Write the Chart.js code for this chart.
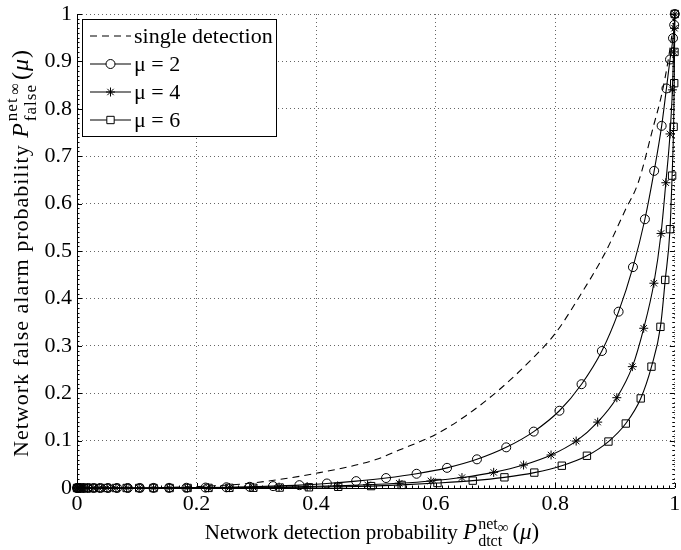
<!DOCTYPE html>
<html>
<head>
<meta charset="utf-8">
<script src="https://cdn.jsdelivr.net/npm/chart.js@4/dist/chart.umd.min.js"></script>
<style>
  html, body { margin: 0; padding: 0; background: #fff; }
  #wrap { width: 681px; height: 550px; }
</style>
</head>
<body>
<div id="wrap"><canvas id="rocChart" width="681" height="550"></canvas></div>
<script>
// single sensor detection curve
var singleDtct  = [0, 0.1, 0.2, 0.289, 0.4, 0.5, 0.539, 0.6, 0.65, 0.706, 0.761, 0.8, 0.844, 0.883, 0.917, 0.939, 0.964, 0.978, 0.989, 1];
var singleFalse = [0, 0.0003, 0.003, 0.01, 0.031, 0.06, 0.08, 0.113, 0.152, 0.207, 0.272, 0.326, 0.411, 0.495, 0.586, 0.645, 0.762, 0.83, 0.903, 1];

// mu = 2
var mu2Dtct  = [0, 0.001, 0.003, 0.007, 0.012, 0.019, 0.028, 0.039, 0.052, 0.067,
                0.085, 0.105, 0.128, 0.154, 0.183, 0.215, 0.25, 0.289, 0.328, 0.372,
                0.418, 0.467, 0.517, 0.568, 0.619, 0.669, 0.718, 0.764, 0.807, 0.844,
                0.878, 0.906, 0.930, 0.950, 0.9655, 0.978, 0.986, 0.992, 0.997, 0.999, 1];
var mu2False = [0, 0, 0, 0, 0, 0, 0, 0, 0, 0,
                0, 0.0001, 0.0002, 0.0003, 0.0005, 0.0009, 0.0015, 0.0025, 0.004, 0.006,
                0.0095, 0.0145, 0.021, 0.030, 0.0425, 0.0605, 0.0858, 0.119, 0.163, 0.219,
                0.289, 0.372, 0.466, 0.567, 0.669, 0.764, 0.843, 0.904, 0.949, 0.977, 1];

// mu = 4
var mu4Dtct  = [0, 0.001, 0.003, 0.006, 0.011, 0.018, 0.027, 0.037, 0.05, 0.065,
                0.083, 0.104, 0.128, 0.155, 0.185, 0.22, 0.255, 0.295, 0.338, 0.385,
                0.436, 0.486, 0.539, 0.592, 0.644, 0.697, 0.747, 0.793, 0.835, 0.871,
                0.903, 0.929, 0.948, 0.965, 0.977, 0.985, 0.992, 0.996, 0.998, 0.9995, 1];
var mu4False = [0, 0, 0, 0, 0, 0, 0, 0, 0, 0,
                0, 0, 0.0001, 0.0002, 0.0003, 0.0005, 0.0008, 0.0013, 0.002, 0.003,
                0.0045, 0.0068, 0.01, 0.0148, 0.022, 0.033, 0.0485, 0.0696, 0.099, 0.139,
                0.1905, 0.256, 0.337, 0.432, 0.537, 0.644, 0.747, 0.84, 0.92, 0.97, 1];

// mu = 6
var mu6Dtct  = [0, 0.001, 0.003, 0.006, 0.011, 0.018, 0.027, 0.037, 0.05, 0.065,
                0.083, 0.104, 0.128, 0.155, 0.185, 0.22, 0.255, 0.295, 0.339, 0.388,
                0.437, 0.492, 0.543, 0.603, 0.662, 0.715, 0.765, 0.811, 0.853, 0.889,
                0.918, 0.943, 0.961, 0.976, 0.984, 0.992, 0.9955, 0.998, 0.999, 0.9995, 1];
var mu6False = [0, 0, 0, 0, 0, 0, 0, 0, 0, 0,
                0, 0, 0, 0, 0.0001, 0.0002, 0.0003, 0.0005, 0.0009, 0.0015,
                0.0025, 0.004, 0.0065, 0.0105, 0.0155, 0.0225, 0.0325, 0.047, 0.068, 0.098,
                0.136, 0.189, 0.256, 0.34, 0.439, 0.546, 0.659, 0.762, 0.854, 0.92, 1];

var legendLabels = ['single detection', 'μ = 2', 'μ = 4', 'μ = 6'];

var SERIF = '"Liberation Serif", "Times New Roman", serif';
var FS = 22;

function toPoints(xs, ys) {
    return xs.map(function(x, i) { return {x: x, y: ys[i]}; });
}

function curve(label, xs, ys, style, radius, dash) {
    return {
        label: label,
        data: toPoints(xs, ys),
        showLine: true,
        borderColor: '#000',
        borderWidth: 1.1,
        borderDash: dash || [],
        backgroundColor: 'rgba(0,0,0,0)',
        pointStyle: style,
        pointRadius: radius,
        pointBorderWidth: 1,
        pointBorderColor: '#000',
        pointBackgroundColor: 'rgba(0,0,0,0)',
        cubicInterpolationMode: 'monotone',
        clip: 8
    };
}

// draws text runs with sub/superscripts, centred on (0,0) of the current transform
function drawMath(ctx, runs, spacing) {
    spacing = spacing || 0;
    function w(text, font) {
        ctx.font = font;
        return ctx.measureText(text).width + spacing * text.length;
    }
    var total = 0;
    runs.forEach(function(r) {
        if (r.stack) {
            var supW = 0;
            r.sup.forEach(function(s) { supW += w(s.text, s.font); });
            r.width = Math.max(supW, w(r.sub.text, r.sub.font)) + r.gap;
        } else {
            r.width = w(r.text, r.font);
        }
        total += r.width;
    });
    var x = -total / 2;
    ctx.textAlign = 'left';
    ctx.textBaseline = 'alphabetic';
    ctx.fillStyle = '#000';
    ctx.letterSpacing = spacing + 'px';
    runs.forEach(function(r) {
        if (r.stack) {
            var sx = x + 1;
            r.sup.forEach(function(s) {
                ctx.font = s.font;
                ctx.fillText(s.text, sx, r.supDy + (s.dy || 0));
                sx += w(s.text, s.font);
            });
            ctx.font = r.sub.font;
            ctx.fillText(r.sub.text, x + 1, r.subDy);
        } else {
            ctx.font = r.font;
            ctx.fillText(r.text, x, 0);
        }
        x += r.width;
    });
    ctx.letterSpacing = '0px';
}

function axisTitle(prefix, subText, textSize, mathSize) {
    var script = Math.round(mathSize * 0.7);
    return [
        {text: prefix, font: textSize + 'px ' + SERIF},
        {text: 'P', font: 'italic ' + mathSize + 'px ' + SERIF},
        {stack: true, gap: 5,
         sup: [{text: 'net', font: script + 'px ' + SERIF},
               {text: '∞', font: (script - 1) + 'px ' + SERIF, dy: 3}],
         sub: {text: subText, font: script + 'px ' + SERIF},
         supDy: -Math.round(mathSize * 0.45), subDy: Math.round(mathSize * 0.32)},
        {text: '(', font: mathSize + 'px ' + SERIF},
        {text: 'μ', font: 'italic ' + mathSize + 'px ' + SERIF},
        {text: ')', font: mathSize + 'px ' + SERIF}
    ];
}

var decorPlugin = {
    id: 'decor',
    afterDraw: function(chart) {
        var ctx = chart.ctx;
        var area = chart.chartArea;
        var xs = chart.scales.x, ys = chart.scales.y;

        // minor ticks on left, right and bottom
        ctx.save();
        ctx.strokeStyle = '#000';
        ctx.lineWidth = 1;
        ctx.beginPath();
        for (var i = 0; i <= 100; i++) {
            var len = (i % 10 === 0) ? 5 : 2.5;
            var py = Math.round(ys.getPixelForValue(i / 100)) + 0.5;
            ctx.moveTo(area.left, py); ctx.lineTo(area.left + len, py);
            ctx.moveTo(area.right, py); ctx.lineTo(area.right - len, py);
        }
        for (var j = 0; j <= 100; j++) {
            var lenX = (j % 20 === 0) ? 5 : 2.5;
            var px = Math.round(xs.getPixelForValue(j / 100)) + 0.5;
            ctx.moveTo(px, area.bottom); ctx.lineTo(px, area.bottom - lenX);
        }
        ctx.stroke();
        ctx.restore();

        // axis titles
        ctx.save();
        ctx.translate(372, 539);
        drawMath(ctx, axisTitle('Network detection probability ', 'dtct', 21, 23));
        ctx.restore();

        ctx.save();
        ctx.translate(28, 253);
        ctx.rotate(-Math.PI / 2);
        drawMath(ctx, axisTitle('Network false alarm probability ', 'false', 22, 24), 1);
        ctx.restore();

        // legend box
        var bx = 82.5, by = 19.5, bw = 194, bh = 117;
        ctx.save();
        ctx.fillStyle = '#fff';
        ctx.fillRect(bx, by, bw, bh);
        ctx.strokeStyle = '#000';
        ctx.lineWidth = 1;
        ctx.strokeRect(bx, by, bw, bh);
        var rows = [36, 64, 92, 120];
        chart.data.datasets.forEach(function(ds, k) {
            var ry = rows[k];
            ctx.save();
            ctx.strokeStyle = '#000';
            ctx.lineWidth = ds.borderWidth;
            ctx.setLineDash(ds.borderDash || []);
            ctx.beginPath();
            ctx.moveTo(90, ry); ctx.lineTo(131, ry);
            ctx.stroke();
            ctx.setLineDash([]);
            if (ds.pointRadius > 0) {
                ctx.fillStyle = '#fff';
                ctx.lineWidth = 1;
                Chart.helpers.drawPoint(ctx, {pointStyle: ds.pointStyle, radius: ds.pointRadius, rotation: 0, borderWidth: 1}, 110.5, ry);
            }
            ctx.restore();
            ctx.fillStyle = '#000';
            ctx.font = FS + 'px ' + SERIF;
            ctx.textAlign = 'left';
            ctx.textBaseline = 'middle';
            ctx.fillText(legendLabels[k], 134, ry + 1);
        });
        ctx.restore();
    }
};

var tickFont = {family: SERIF, size: FS};

new Chart(document.getElementById('rocChart'), {
    type: 'scatter',
    data: {
        datasets: [
            curve(legendLabels[0], singleDtct, singleFalse, 'circle', 0, [7, 5]),
            curve(legendLabels[1], mu2Dtct, mu2False, 'circle', 4.5),
            curve(legendLabels[2], mu4Dtct, mu4False, 'star', 4.5),
            curve(legendLabels[3], mu6Dtct, mu6False, 'rect', 5.2)
        ]
    },
    options: {
        responsive: false,
        animation: false,
        devicePixelRatio: 1,
        layout: {padding: {top: 14, right: 4, left: 0, bottom: 0}},
        plugins: {
            legend: {display: false},
            tooltip: {enabled: false}
        },
        scales: {
            x: {
                type: 'linear',
                min: 0, max: 1,
                afterFit: function(scale) {
                    scale.height = 62;
                    scale.paddingLeft = 0;
                    scale.paddingRight = 0;
                },
                ticks: {
                    stepSize: 0.2,
                    padding: 3,
                    color: '#000',
                    font: tickFont,
                    callback: function(v) { return Number(v.toFixed(1)).toString(); }
                },
                grid: {color: 'rgba(0,0,0,0.6)', lineWidth: 1, drawTicks: false},
                border: {display: true, color: '#000', width: 1, dash: [1, 3]}
            },
            y: {
                type: 'linear',
                min: 0, max: 1,
                afterFit: function(scale) {
                    scale.width = 77;
                    scale.paddingTop = 0;
                    scale.paddingBottom = 0;
                },
                ticks: {
                    stepSize: 0.1,
                    padding: 5,
                    color: '#000',
                    font: tickFont,
                    callback: function(v) { return Number(v.toFixed(1)).toString(); }
                },
                grid: {color: 'rgba(0,0,0,0.6)', lineWidth: 1, drawTicks: false},
                border: {display: true, color: '#000', width: 1, dash: [1, 3]}
            }
        }
    },
    plugins: [decorPlugin]
});
</script>
</body>
</html>
